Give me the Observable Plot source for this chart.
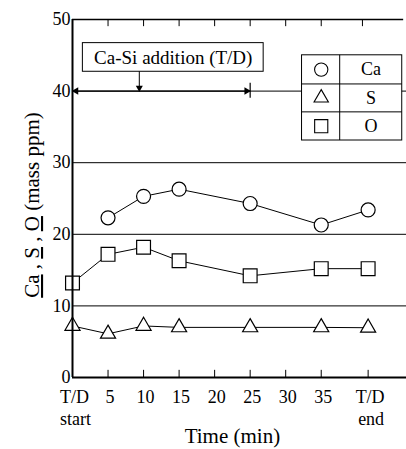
<!DOCTYPE html>
<html><head><meta charset="utf-8">
<script src="https://cdn.jsdelivr.net/npm/d3@7"></script>
<script src="https://cdn.jsdelivr.net/npm/@observablehq/plot@0.6"></script>
<style>body{margin:0;background:#fff} svg{display:block}</style>
</head><body><div id="chart"></div>
<script>
// ---- data ----
const END = 41.6;                       // "T/D end" position on the time axis
const caTime  = [5, 10, 15, 25, 35, END];
const caValue = [22.3, 25.3, 26.3, 24.3, 21.3, 23.4];
const soTime  = [0, 5, 10, 15, 25, 35, END];
const sValue  = [7.2, 6.1, 7.2, 7.0, 7.0, 7.0, 6.95];
const oValue  = [13.2, 17.2, 18.2, 16.3, 14.2, 15.2, 15.2];
const xTicks  = [0, 5, 10, 15, 20, 25, 30, 35, END];
const xTickLabels  = ["T/D", "5", "10", "15", "20", "25", "30", "35", "T/D"];
const xTickLabels2 = ["start", "", "", "", "", "", "", "", "end"];
const topTicks = [5, 10, 15, 20, 25, 30, 35, 40.8];
const yTicks = [0, 10, 20, 30, 40, 50];
const gridValues = [10, 20, 30, 40];
const legendNames = ["Ca", "S", "O"];
const legendSymbols = ["circle", "triangle", "square"];
const additionText = "Ca-Si addition (T/D)";
const additionStart = 0, additionEnd = 25, additionPoint = 9.4, additionLevel = 40;

// ---- layout (in data units) ----
const box = {x1: 1.46, x2: 26.9, y1: 42.7, y2: 46.7};
const leg = {x1: 32.3, x2: 46.4, y1: 33.1, y2: 45.0, xmid: 37.6, rows: [41.0, 37.1], symX: 35.0, txtX: 42.0, rowY: [43.0, 39.05, 35.1]};

const ca = caTime.map((t, i) => ({t, v: caValue[i]}));
const s  = soTime.map((t, i) => ({t, v: sValue[i]}));
const o  = soTime.map((t, i) => ({t, v: oValue[i]}));
const ticks = xTicks.map((t, i) => ({t, a: xTickLabels[i], b: xTickLabels2[i]}));
const legendRows = legendNames.map((n, i) => ({n, sym: legendSymbols[i], y: leg.rowY[i]}));
const symR = {circle: 7, triangle: 5.6, square: 7.8};

const font = "Liberation Serif, Times New Roman, serif";

const plot = Plot.plot({
  width: 406, height: 449,
  marginLeft: 72, marginRight: 0, marginTop: 19, marginBottom: 72,
  x: {domain: [0, 47], axis: null},
  y: {domain: [0, 50], axis: null},
  style: {background: "white", color: "black", fontFamily: font},
  marks: [
    Plot.ruleY(gridValues, {stroke: "black", strokeWidth: 1}),
    Plot.line(ca, {x: "t", y: "v", stroke: "black", strokeWidth: 1}),
    Plot.line(s,  {x: "t", y: "v", stroke: "black", strokeWidth: 1}),
    Plot.line(o,  {x: "t", y: "v", stroke: "black", strokeWidth: 1}),
    Plot.dot(ca, {x: "t", y: "v", symbol: "circle", r: symR.circle, fill: "white", stroke: "black", strokeWidth: 1.2}),
    Plot.dot(s,  {x: "t", y: "v", symbol: "triangle", r: symR.triangle, fill: "white", stroke: "black", strokeWidth: 1.2}),
    Plot.dot(o,  {x: "t", y: "v", symbol: "square", r: symR.square, fill: "white", stroke: "black", strokeWidth: 1.2}),
    // annotation
    Plot.rect([box], {x1: "x1", x2: "x2", y1: "y1", y2: "y2", fill: "white", stroke: "black", strokeWidth: 1}),
    Plot.text([additionText], {x: (box.x1 + box.x2) / 2, y: (box.y1 + box.y2) / 2, text: d => d, fontSize: 19, fontFamily: font}),
    Plot.ruleX([additionPoint], {y1: box.y1, y2: additionLevel + 0.6, stroke: "black", strokeWidth: 1}),
    Plot.dot([additionPoint], {x: d => d, y: additionLevel + 0.45, symbol: "triangle", r: 2.6, rotate: 180, fill: "black", stroke: "none"}),
    Plot.ruleY([additionLevel], {x1: additionStart, x2: additionEnd, stroke: "black", strokeWidth: 1.3}),
    Plot.dot([additionStart + 0.5], {x: d => d, y: additionLevel, symbol: "triangle", r: 2.8, rotate: -90, fill: "black", stroke: "none"}),
    Plot.dot([additionEnd - 0.5], {x: d => d, y: additionLevel, symbol: "triangle", r: 2.8, rotate: 90, fill: "black", stroke: "none"}),
    Plot.ruleX([additionEnd], {y1: additionLevel - 1.0, y2: additionLevel + 1.1, stroke: "black", strokeWidth: 1.2}),
    // legend
    Plot.rect([leg], {x1: "x1", x2: "x2", y1: "y1", y2: "y2", fill: "white", stroke: "black", strokeWidth: 1}),
    Plot.ruleX([leg.xmid], {y1: leg.y1, y2: leg.y2, stroke: "black", strokeWidth: 1}),
    Plot.ruleY(leg.rows, {x1: leg.x1, x2: leg.x2, stroke: "black", strokeWidth: 1}),
    ...legendRows.map(r => Plot.dot([r], {x: leg.symX, y: "y", symbol: r.sym, r: symR[r.sym] * 0.95, fill: "white", stroke: "black", strokeWidth: 1.1})),
    Plot.text(legendRows, {x: leg.txtX, y: "y", text: "n", fontSize: 18, fontFamily: font}),
    // frame
    Plot.ruleY([0], {stroke: "black", strokeWidth: 2}),
    Plot.ruleY([50], {x1: 0, x2: 46.6, stroke: "black", strokeWidth: 1.5}),
    Plot.ruleX([0], {stroke: "black", strokeWidth: 2}),
    Plot.ruleX(xTicks.slice(1), {y1: 0, y2: 1.0, stroke: "black", strokeWidth: 1}),
    Plot.ruleX(topTicks, {y1: 50, y2: 49.0, stroke: "black", strokeWidth: 1}),
    // axis labels
    Plot.text(yTicks, {x: 0, y: d => d, text: d => String(d), textAnchor: "end", dx: -2, fontSize: 18, fontFamily: font}),
    Plot.text(ticks, {x: "t", y: 0, text: "a", dx: 2, dy: 20, fontSize: 18, fontFamily: font}),
    Plot.text(ticks, {x: "t", y: 0, text: "b", dx: 3, dy: 42, fontSize: 18, fontFamily: font}),
    Plot.text(["Time (min)"], {x: 22.5, y: 0, text: d => d, dy: 59, fontSize: 21, fontFamily: font})
  ]
});

// rotated y-axis title with underlined element symbols
const svg = d3.select(plot);
const yLab = svg.append("text")
  .attr("transform", "translate(39,205) rotate(-90)")
  .attr("text-anchor", "middle")
  .style("font-family", font)
  .attr("font-size", 21)
  .attr("fill", "black");
const parts = [["Ca", true], [" , ", false], ["S", true], [" , ", false], ["O", true], [" (mass ppm)", false]];
parts.forEach(([txt, u]) => {
  const ts = yLab.append("tspan").text(txt);
  if (u) ts.style("text-decoration", "underline");
});

document.getElementById("chart").append(plot);
</script>
</body></html>
